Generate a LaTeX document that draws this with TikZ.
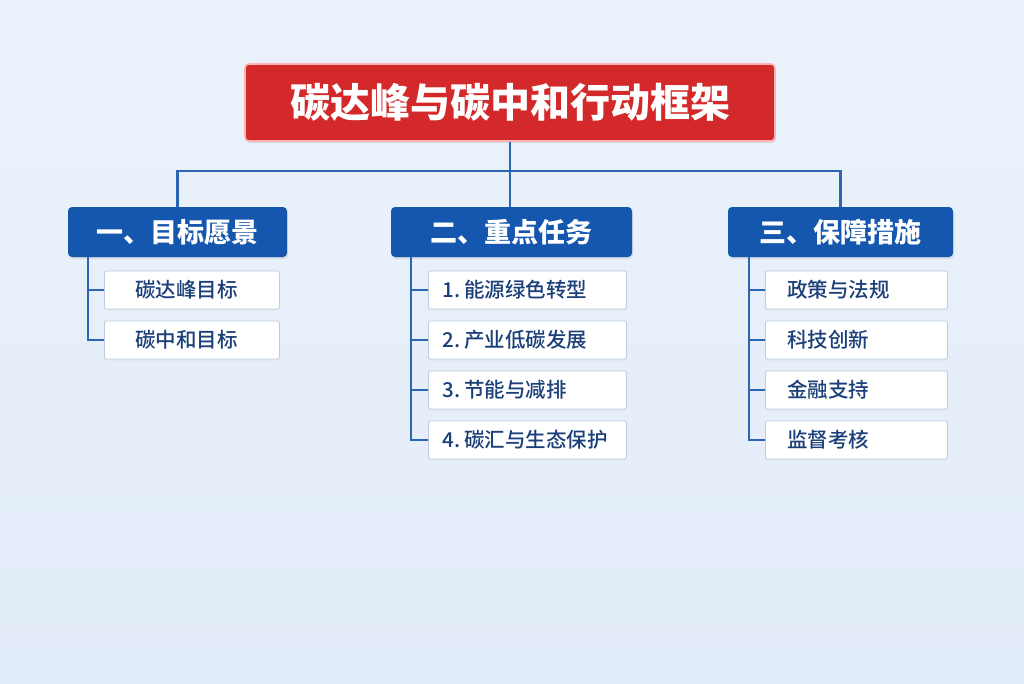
\documentclass[tikz,border=0pt]{standalone}
\usepackage{fontspec}
\setmainfont{Noto Sans CJK SC}
\newfontfamily\itemfont{Noto Sans CJK SC Medium}
\usetikzlibrary{shadows}

\definecolor{bgblue}{HTML}{E2ECF8}
\definecolor{bglite}{HTML}{EBF2FB}
\definecolor{titlered}{HTML}{D3292A}
\definecolor{headblue}{HTML}{1557AE}
\definecolor{linkblue}{HTML}{2B66B3}
\definecolor{itemtext}{HTML}{1B3F78}
\definecolor{itemedge}{HTML}{BFCDE0}

\begin{document}
\begin{tikzpicture}[x=1pt,y=-1pt]
  \tikzset{
    titlebox/.style={fill=titlered, draw=red!30!white, line width=1.6pt,
      rounded corners=4pt, minimum width=530pt, minimum height=77pt,
      text=white, font=\bfseries\fontsize{40}{42}\selectfont,
      drop shadow={opacity=.18, shadow xshift=1pt, shadow yshift=-2pt}},
    headbox/.style={fill=headblue, rounded corners=4pt, minimum height=50pt,
      text=white, font=\bfseries\fontsize{27}{30}\selectfont,
      drop shadow={opacity=.18, shadow xshift=1pt, shadow yshift=-2pt}},
    itembox/.style={fill=white, draw=itemedge, line width=.8pt, rounded corners=2pt,
      minimum height=38pt, anchor=west, align=left, text=itemtext,
      font=\itemfont\fontsize{20.5}{23}\selectfont,
      drop shadow={opacity=.08, shadow xshift=0pt, shadow yshift=-1.5pt}},
    link/.style={draw=linkblue, line width=2.2pt}
  }
  % background
  \shade[top color=bglite, bottom color=bgblue] (0,0) rectangle (1024,683);
  \useasboundingbox (0,0) rectangle (1024,683);

  % title
  \node[titlebox] (title) at (510,102.5) {碳达峰与碳中和行动框架};

  % heads
  \node[headbox, minimum width=219pt] (h1) at (177.5,232) {一、目标愿景};
  \node[headbox, minimum width=241pt] (h2) at (511.5,232) {二、重点任务};
  \node[headbox, minimum width=225pt] (h3) at (840.5,232) {三、保障措施};

  % column 1
  \node[itembox, text width=113pt, inner xsep=31pt] (c11) at (104,290) {碳达峰目标};
  \node[itembox, text width=113pt, inner xsep=31pt] (c12) at (104,340) {碳中和目标};

  % column 2
  \node[itembox, text width=170pt, inner xsep=14pt] (c21) at (428,290) {1.\hspace{4pt}能源绿色转型};
  \node[itembox, text width=170pt, inner xsep=14pt] (c22) at (428,340) {2.\hspace{4pt}产业低碳发展};
  \node[itembox, text width=170pt, inner xsep=14pt] (c23) at (428,390) {3.\hspace{4pt}节能与减排};
  \node[itembox, text width=170pt, inner xsep=14pt] (c24) at (428,440) {4.\hspace{4pt}碳汇与生态保护};

  % column 3
  \node[itembox, text width=138pt, inner xsep=22pt] (c31) at (765,290) {政策与法规};
  \node[itembox, text width=138pt, inner xsep=22pt] (c32) at (765,340) {科技创新};
  \node[itembox, text width=138pt, inner xsep=22pt] (c33) at (765,390) {金融支持};
  \node[itembox, text width=138pt, inner xsep=22pt] (c34) at (765,440) {监督考核};

  % connectors from the title
  \draw[link] (title.south) -- ++(0,29) coordinate (bus);
  \draw[link] (h1.north) |- (bus) -| (h3.north);
  \draw[link] (bus) -- (bus |- h2.north);

  % tree lines
  \draw[link] (h1.south west) ++(20,0) coordinate (t1) |- (c12.west);
  \draw[link] (t1) |- (c11.west);
  \draw[link] (h2.south west) ++(20,0) coordinate (t2) |- (c24.west);
  \draw[link] (t2) |- (c21.west);
  \draw[link] (t2) |- (c22.west);
  \draw[link] (t2) |- (c23.west);
  \draw[link] (h3.south west) ++(21,0) coordinate (t3) |- (c34.west);
  \draw[link] (t3) |- (c31.west);
  \draw[link] (t3) |- (c32.west);
  \draw[link] (t3) |- (c33.west);
\end{tikzpicture}
\end{document}
